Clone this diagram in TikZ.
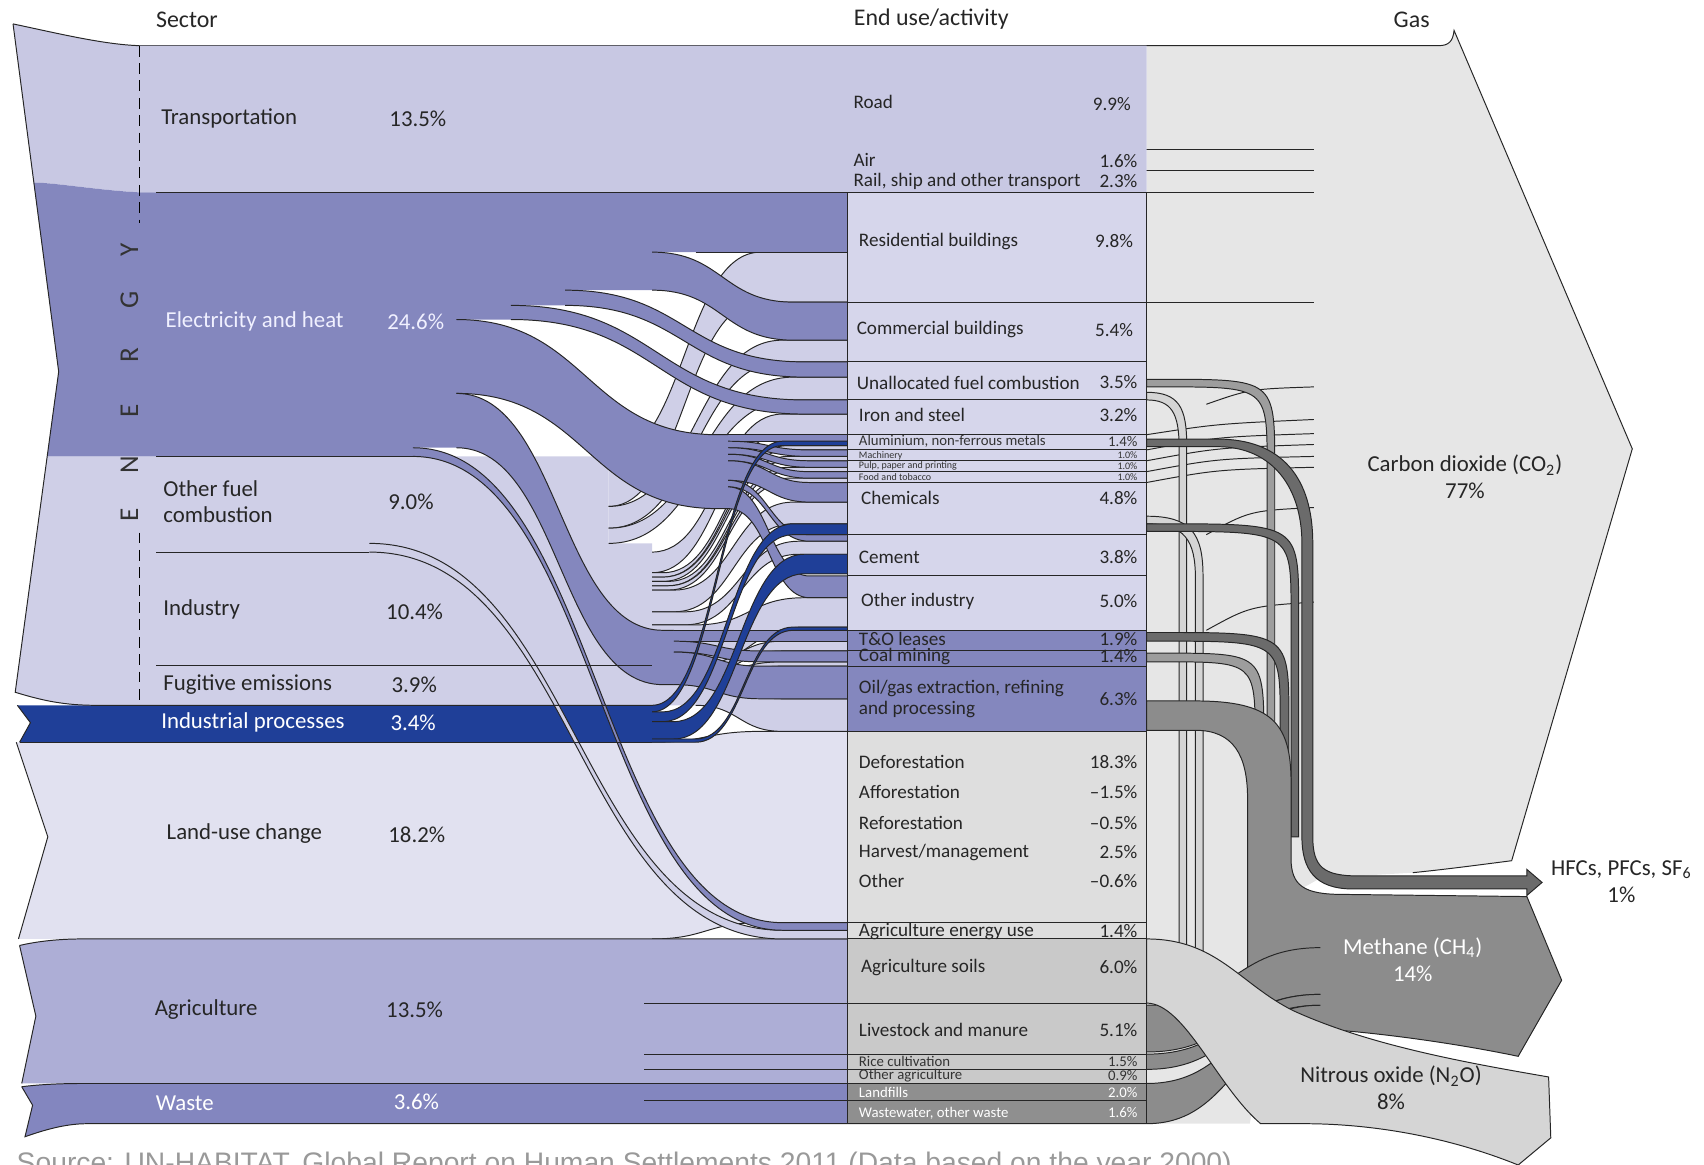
\documentclass[tikz,border=0pt]{standalone}
\usepackage{fontspec}
\setmainfont{Carlito}
\newfontfamily\sourcefont{Liberation Sans}
\usepackage{xcolor}
\definecolor{transp}{HTML}{C8C8E3}
\definecolor{elec}{HTML}{8487BE}
\definecolor{fuel}{HTML}{CFCFE7}
\definecolor{indpro}{HTML}{1F3F98}
\definecolor{landuse}{HTML}{E1E1F0}
\definecolor{agri}{HTML}{ADAED6}
\definecolor{waste}{HTML}{8386BF}
\definecolor{boxlav}{HTML}{D6D6EB}
\definecolor{boxland}{HTML}{DEDEDE}
\definecolor{boxagri}{HTML}{C9C9C9}
\definecolor{boxwaste}{HTML}{8F8F8F}
\definecolor{co2}{HTML}{E6E6E6}
\definecolor{ch4}{HTML}{8C8C8C}
\definecolor{ntwo}{HTML}{D5D5D5}
\definecolor{hfc}{HTML}{6B6B6B}
\definecolor{midgrey}{HTML}{9D9D9D}

\tikzset{
  flowline/.style={draw=black!85, line width=0.45pt},
  sector/.style={anchor=west, inner sep=0pt, text=black!85, font=\fontsize{10.5}{12}\selectfont},
  enduse/.style={anchor=west, inner sep=0pt, text=black!85, font=\fontsize{8.8}{10}\selectfont},
  share/.style={anchor=east, inner sep=0pt, text=black!85, font=\fontsize{8.8}{10}\selectfont},
  smallrow/.style={anchor=west, inner sep=0pt, text=black!80, font=\fontsize{6.8}{7}\selectfont},
  tinyrow/.style={anchor=west, inner sep=0pt, text=black!80, font=\fontsize{4.6}{5}\selectfont},
  tinyshare/.style={anchor=east, inner sep=0pt, text=black!80, font=\fontsize{4.6}{5}\selectfont},
  heading/.style={inner sep=0pt, text=black!85, font=\fontsize{11}{13}\selectfont},
  gaslabel/.style={inner sep=0pt, align=center, text=black!85, font=\fontsize{10.5}{12.5}\selectfont},
  letter/.style={rotate=90, inner sep=0pt, text=black!80, font=\fontsize{12.5}{14}\selectfont},
}

% ribbon: colour, x start, curve start, curve end, x end, left top/bottom, right top/bottom
\newcommand{\sankeyflow}[9]{%
  \pgfmathsetmacro{\flowmid}{(#3+#4)/2}%
  \fill[#1] (#2,#6) -- (#3,#6) .. controls (\flowmid,#6) and (\flowmid,#8) .. (#4,#8) -- (#5,#8) -- (#5,#9) -- (#4,#9) .. controls (\flowmid,#9) and (\flowmid,#7) .. (#3,#7) -- (#2,#7) -- cycle;
  \draw[flowline] (#2,#6) -- (#3,#6) .. controls (\flowmid,#6) and (\flowmid,#8) .. (#4,#8) -- (#5,#8);
  \draw[flowline] (#2,#7) -- (#3,#7) .. controls (\flowmid,#7) and (\flowmid,#9) .. (#4,#9) -- (#5,#9);}

% band leaving the box to the right and turning down
\newcommand{\gasdrop}[5]{%
  \pgfmathsetmacro{\dropr}{#4+#3}%
  \pgfmathsetmacro{\dropb}{#2+#3}%
  \pgfmathsetmacro{\dropk}{#2+80}%
  \filldraw[fill=#1, flowline] (1055,#2) -- (1070,#2) .. controls (\dropr,#2) .. (\dropr,\dropk) -- (\dropr,#5) -- (#4,#5) -- (#4,\dropk) .. controls (#4,\dropb) .. (1070,\dropb) -- (1055,\dropb) -- cycle;}

\begin{document}
\begin{tikzpicture}[x=0.5pt, y=-0.5pt]
\useasboundingbox (0,0) rectangle (1568,1072);

% gas side
\fill[co2] (1055,42) -- (1324,42) .. controls (1333,42) and (1337,38) .. (1338,28) -- (1502,413) -- (1391,792) .. controls (1360,796) and (1330,800) .. (1300,803) -- (1215,808) -- (1190,822) -- (1150,1034) -- (1055,1034) -- cycle;
\draw[flowline] (128,42) -- (1324,42) .. controls (1333,42) and (1337,38) .. (1338,28) -- (1502,413) -- (1391,792) .. controls (1360,796) and (1330,800) .. (1300,803);
\draw[flowline] (593,138) -- (1209,138);
\draw[flowline] (593,157) -- (1209,157);
\draw[flowline] (1055,278) -- (1209,278);
\draw[flowline] (1110,372) .. controls (1150,358) .. (1209,356);
\draw[flowline] (1055,400) .. controls (1120,390) .. (1209,386);
\draw[flowline] (1055,414) .. controls (1120,402) .. (1209,399);
\draw[flowline] (1055,424) .. controls (1120,412) .. (1209,409);
\draw[flowline] (1055,434) .. controls (1120,422) .. (1209,420);
\draw[flowline] (1055,444) .. controls (1120,432) .. (1209,430);
\draw[flowline] (1110,492) .. controls (1150,470) .. (1209,467);
\draw[flowline] (1110,580) .. controls (1150,558) .. (1209,554);

\filldraw[fill=ntwo, flowline] (1055,361) .. controls (1085,361) and (1092,375) .. (1092,410) -- (1092,895) .. controls (1092,935) and (1120,960) .. (1170,966) -- (1170,974) .. controls (1110,968) and (1085,940) .. (1085,900) -- (1085,412) .. controls (1085,380) and (1078,368) .. (1055,368) -- cycle;
\filldraw[fill=ntwo, flowline] (1055,475) .. controls (1095,475) and (1107,490) .. (1107,530) -- (1107,890) .. controls (1107,930) and (1135,952) .. (1185,958) -- (1185,966) .. controls (1125,962) and (1100,935) .. (1100,895) -- (1100,532) .. controls (1100,497) and (1090,482) .. (1055,482) -- cycle;

\gasdrop{midgrey}{349}{7}{1166}{780}
\gasdrop{hfc}{582}{8}{1178}{790}
\gasdrop{midgrey}{601}{8}{1155}{780}
\gasdrop{hfc}{482}{7}{1188}{770}

\filldraw[fill=ch4, flowline] (1055,645) -- (1100,645) .. controls (1170,645) and (1188,665) .. (1188,720) -- (1188,790) .. controls (1188,815) and (1200,823) .. (1235,823) -- (1405,825) -- (1437,902) -- (1397,972) .. controls (1330,958) and (1250,948) .. (1200,946) .. controls (1170,944) and (1150,925) .. (1148,895) -- (1148,735) .. controls (1148,695) and (1135,672) .. (1100,672) -- (1055,672) -- cycle;
\sankeyflow{ch4}{1055}{1055}{1215}{1215}{925}{968}{872}{915}
\sankeyflow{ch4}{1055}{1055}{1215}{1215}{970}{984}{915}{925}
\sankeyflow{ch4}{1055}{1055}{1215}{1215}{997}{1034}{925}{945}

\filldraw[fill=ntwo, flowline] (1055,864) .. controls (1120,864) and (1140,905) .. (1190,930) .. controls (1260,962) and (1350,978) .. (1425,991) -- (1427,1047) -- (1397,1072) .. controls (1330,1045) and (1260,1034) .. (1200,1034) -- (1160,1034) .. controls (1120,1000) and (1090,923) .. (1055,923) -- cycle;

\filldraw[fill=hfc, flowline] (1055,404) -- (1120,404) .. controls (1180,404) and (1208,440) .. (1208,500) -- (1208,770) .. controls (1208,798) and (1218,806) .. (1250,806) -- (1405,806) -- (1405,800) -- (1419,812) -- (1405,824) -- (1405,818) -- (1245,818) .. controls (1210,818) and (1198,800) .. (1198,770) -- (1198,500) .. controls (1198,450) and (1172,411) .. (1120,411) -- (1055,411) -- cycle;

% land-use, agriculture, waste
\fill[landuse] (15,683) -- (600,683) .. controls (650,683) and (650,673) .. (700,673) -- (780,673) -- (780,849) -- (700,849) .. controls (650,849) and (650,864) .. (600,864) -- (17,864) -- (44,770) -- cycle;
\draw[flowline] (15,683) -- (44,770) -- (17,864);
\draw[flowline] (600,864) .. controls (650,864) and (650,849) .. (700,849) -- (780,849);
\draw[flowline] (600,683) .. controls (650,683) and (650,673) .. (700,673) -- (780,673);
\fill[agri] (18,870) .. controls (35,866) and (55,864) .. (75,864) -- (780,864) -- (780,997) -- (20,997) -- (33,935) -- cycle;
\draw[flowline] (18,870) .. controls (35,866) and (55,864) .. (75,864) -- (780,864);
\draw[flowline] (18,870) -- (33,935) -- (20,997);
\fill[waste] (20,1000) .. controls (35,998) and (55,997) .. (75,997) -- (780,997) -- (780,1034) -- (80,1034) .. controls (60,1034) and (40,1040) .. (23,1046) -- (30,1017) -- cycle;
\draw[flowline] (20,1000) .. controls (35,998) and (55,997) .. (75,997) -- (780,997);
\draw[flowline] (20,1000) -- (30,1017) -- (23,1046) .. controls (40,1040) and (60,1034) .. (80,1034) -- (1055,1034);
\draw[flowline] (593,923) -- (780,923);
\draw[flowline] (593,970) -- (780,970);
\draw[flowline] (593,984) -- (780,984);
\draw[flowline] (593,1013) -- (780,1013);

% energy sectors
\fill[transp] (12,22) .. controls (50,30) and (95,41) .. (128,42) -- (1055,42) -- (1055,177) -- (128,177) .. controls (90,175) and (50,168) .. (31,168) -- cycle;
\fill[fuel] (43.4,420) -- (560,420) -- (560,500) -- (600,500) -- (600,510) -- (31.5,510) -- cycle;
\fill[fuel] (31.5,508) -- (600,508) -- (600,612) -- (17.4,612) -- cycle;
\fill[fuel] (17.4,612) -- (640,612) -- (640,649) -- (88,649) .. controls (60,649) and (40,645) .. (14,637) -- cycle;

% other fuel combustion
\sankeyflow{fuel}{560}{560}{700}{780}{420}{466}{232}{278}
\sankeyflow{fuel}{560}{560}{720}{780}{466}{486}{313}{333}
\sankeyflow{fuel}{560}{560}{730}{780}{486}{500}{347}{368}
% industry
\sankeyflow{fuel}{600}{600}{720}{780}{508}{527}{381}{400}
\sankeyflow{fuel}{600}{610}{725}{780}{527}{531}{410}{414}
\sankeyflow{fuel}{600}{610}{725}{780}{531}{535}{420}{424}
\sankeyflow{fuel}{600}{615}{725}{780}{535}{539}{430}{434}
\sankeyflow{fuel}{600}{615}{725}{780}{539}{543}{440}{444}
\sankeyflow{fuel}{600}{620}{730}{780}{543}{563}{462}{482}
\sankeyflow{fuel}{600}{630}{735}{780}{563}{575}{498}{510}
\sankeyflow{fuel}{600}{640}{740}{780}{575}{612}{550}{577}
% fugitive emissions
\sankeyflow{fuel}{640}{640}{720}{780}{612}{621}{590}{599}
\sankeyflow{fuel}{640}{640}{720}{780}{621}{625}{609}{613}
\sankeyflow{fuel}{640}{640}{720}{780}{625}{649}{643}{673}

% electricity and heat
\fill[elec] (31,168) .. controls (50,168) and (90,175) .. (128,177) -- (780,177) -- (780,232) -- (602,232) -- (602,267) -- (522,267) -- (522,281) -- (472,281) -- (472,294) -- (422,294) -- (422,412) -- (382,412) -- (382,420) -- (43.4,420) -- (54,342) -- cycle;
\draw[flowline] (640,232) -- (780,232);
\sankeyflow{elec}{600}{600}{730}{780}{232}{267}{278}{313}
\sankeyflow{elec}{520}{520}{740}{780}{267}{281}{333}{347}
\sankeyflow{elec}{470}{470}{740}{780}{281}{294}{368}{381}
% upper band to industry
\sankeyflow{elec}{420}{420}{660}{670}{294}{362}{400}{468}
\sankeyflow{elec}{670}{670}{745}{780}{400}{406}{400}{406}
\sankeyflow{elec}{670}{670}{745}{780}{406}{412}{414}{420}
\sankeyflow{elec}{670}{670}{745}{780}{412}{418}{424}{430}
\sankeyflow{elec}{670}{670}{745}{780}{418}{424}{434}{440}
\sankeyflow{elec}{670}{670}{745}{780}{424}{442}{444}{462}
\sankeyflow{elec}{670}{670}{745}{780}{442}{448}{492}{498}
\sankeyflow{elec}{670}{670}{745}{780}{448}{468}{530}{550}
% lower band to fuel production
\sankeyflow{elec}{420}{420}{610}{620}{362}{412}{580}{630}
\sankeyflow{elec}{620}{620}{700}{780}{580}{590}{580}{590}
\sankeyflow{elec}{620}{620}{700}{780}{590}{600}{599}{609}
\sankeyflow{elec}{620}{620}{700}{780}{600}{630}{613}{643}

% industrial processes
\fill[indpro] (16,649) -- (600,649) -- (600,683) -- (18,683) -- (28,665) -- cycle;
\draw[flowline] (16,649) -- (28,665) -- (18,683);

% agriculture energy use
\sankeyflow{fuel}{340}{340}{720}{780}{500}{508}{856}{864}
\sankeyflow{elec}{380}{380}{720}{780}{412}{420}{849}{856}

\sankeyflow{indpro}{600}{600}{720}{780}{649}{655}{406}{410}
\sankeyflow{indpro}{600}{610}{730}{780}{655}{664}{482}{492}
\sankeyflow{indpro}{600}{620}{740}{780}{664}{680}{510}{528}
\sankeyflow{indpro}{600}{640}{730}{780}{680}{683}{577}{580}

% sector outline and borders
\draw[flowline] (12,22) .. controls (50,30) and (95,41) .. (128,42);
\draw[flowline] (12,22) -- (54,342) -- (14,637) .. controls (40,645) and (60,649) .. (88,649) -- (600,649);
\draw[flowline] (144,177) -- (1209,177);
\draw[flowline] (144,420) -- (380,420);
\draw[flowline] (144,508) -- (340,508);
\draw[flowline] (144,612) -- (600,612);
\draw[flowline] (18,683) -- (600,683);
\draw[dashed, dash pattern=on 5pt off 3pt, line width=0.5pt] (128,42) -- (128,205);
\draw[dashed, dash pattern=on 5pt off 3pt, line width=0.5pt] (128,490) -- (128,645);

% end use boxes
\filldraw[fill=boxlav, flowline] (780,177) rectangle (1055,278);
\filldraw[fill=boxlav, flowline] (780,278) rectangle (1055,333);
\filldraw[fill=boxlav, flowline] (780,333) rectangle (1055,368);
\filldraw[fill=boxlav, flowline] (780,368) rectangle (1055,400);
\filldraw[fill=boxlav, flowline] (780,400) rectangle (1055,414);
\filldraw[fill=boxlav, flowline] (780,414) rectangle (1055,424);
\filldraw[fill=boxlav, flowline] (780,424) rectangle (1055,434);
\filldraw[fill=boxlav, flowline] (780,434) rectangle (1055,444);
\filldraw[fill=boxlav, flowline] (780,444) rectangle (1055,492);
\filldraw[fill=boxlav, flowline] (780,492) rectangle (1055,530);
\filldraw[fill=boxlav, flowline] (780,530) rectangle (1055,580);
\filldraw[fill=elec, flowline] (780,580) rectangle (1055,599);
\filldraw[fill=elec, flowline] (780,599) rectangle (1055,613);
\filldraw[fill=elec, flowline] (780,613) rectangle (1055,673);
\filldraw[fill=boxland, flowline] (780,673) rectangle (1055,849);
\filldraw[fill=boxland, flowline] (780,849) rectangle (1055,864);
\filldraw[fill=boxagri, flowline] (780,864) rectangle (1055,923);
\filldraw[fill=boxagri, flowline] (780,923) rectangle (1055,970);
\filldraw[fill=boxagri, flowline] (780,970) rectangle (1055,984);
\filldraw[fill=boxagri, flowline] (780,984) rectangle (1055,997);
\filldraw[fill=boxwaste, flowline] (780,997) rectangle (1055,1013);
\filldraw[fill=boxwaste, flowline] (780,1013) rectangle (1055,1034);

% headings
\node[heading] (hsector) at (172,18) {Sector};
\node[heading] (henduse) at (857,18) {End use/activity};
\node[heading] (hgas) at (1299,18) {Gas};

% energy letters
\node[letter] (lete1) at (119,474) {E};
\node[letter] (letn) at (119,428) {N};
\node[letter] (lete2) at (119,378) {E};
\node[letter] (letr) at (119,327) {R};
\node[letter] (letg) at (119,276) {G};
\node[letter] (lety) at (119,230) {Y};

% sectors
\node[sector] (transport) at (148,109) {Transportation};
\node[sector] (transportp) at (358,109) {13.5\%};
\node[sector, text=white!94!blue] (electricity) at (152,296) {Electricity and heat};
\node[sector, text=white!94!blue] (electricityp) at (356,296) {24.6\%};
\node[sector, align=left] (otherfuel) at (150,462) {Other fuel\\combustion};
\node[sector] (otherfuelp) at (357,462) {9.0\%};
\node[sector] (industry) at (150,561) {Industry};
\node[sector] (industryp) at (355,563) {10.4\%};
\node[sector] (fugitive) at (150,630) {Fugitive emissions};
\node[sector] (fugitivep) at (360,630) {3.9\%};
\node[sector, text=white] (indproc) at (148,665) {Industrial processes};
\node[sector, text=white] (indprocp) at (359,665) {3.4\%};
\node[sector] (landuse) at (153,767) {Land-use change};
\node[sector] (landusep) at (357,768) {18.2\%};
\node[sector] (agri) at (142,929) {Agriculture};
\node[sector] (agrip) at (355,929) {13.5\%};
\node[sector, text=white] (waste) at (143,1015) {Waste};
\node[sector, text=white] (wastep) at (362,1014) {3.6\%};

% end uses
\node[enduse] (road) at (785,94) {Road};
\node[share] (roadp) at (1041,96) {9.9\%};
\node[enduse] (air) at (785,147) {Air};
\node[share] (airp) at (1047,148) {1.6\%};
\node[enduse] (rail) at (785,167) {Rail, ship and other transport};
\node[share] (railp) at (1047,167) {2.3\%};
\node[enduse] (resid) at (790,222) {Residential buildings};
\node[share] (residp) at (1043,222) {9.8\%};
\node[enduse] (comm) at (788,303) {Commercial buildings};
\node[share] (commp) at (1043,304) {5.4\%};
\node[enduse] (unalloc) at (788,352) {Unallocated fuel combustion};
\node[share] (unallocp) at (1047,352) {3.5\%};
\node[enduse] (iron) at (790,382) {Iron and steel};
\node[share] (ironp) at (1047,382) {3.2\%};
\node[smallrow] (alu) at (790,406) {Aluminium, non-ferrous metals};
\node[tinyshare, font=\fontsize{6.8}{7}\selectfont] (alup) at (1047,406) {1.4\%};
\node[tinyrow] (mach) at (790,419) {Machinery};
\node[tinyshare] (machp) at (1047,419) {1.0\%};
\node[tinyrow] (pulp) at (790,429) {Pulp, paper and printing};
\node[tinyshare] (pulpp) at (1047,429) {1.0\%};
\node[tinyrow] (food) at (790,439) {Food and tobacco};
\node[tinyshare] (foodp) at (1047,439) {1.0\%};
\node[enduse] (chem) at (792,458) {Chemicals};
\node[share] (chemp) at (1047,458) {4.8\%};
\node[enduse] (cement) at (790,513) {Cement};
\node[share] (cementp) at (1047,513) {3.8\%};
\node[enduse] (otherind) at (792,553) {Other industry};
\node[share] (otherindp) at (1047,553) {5.0\%};
\node[enduse] (tando) at (790,588) {T\&O leases};
\node[share] (tandop) at (1047,588) {1.9\%};
\node[enduse] (coal) at (790,604) {Coal mining};
\node[share] (coalp) at (1047,604) {1.4\%};
\node[enduse, align=left, font=\fontsize{8.8}{9.6}\selectfont] (oilgas) at (790,643) {Oil/gas extraction, refining\\and processing};
\node[share] (oilgasp) at (1047,643) {6.3\%};
\node[enduse] (defor) at (790,701) {Deforestation};
\node[share] (deforp) at (1047,701) {18.3\%};
\node[enduse] (affor) at (790,729) {Afforestation};
\node[share] (afforp) at (1047,729) {--1.5\%};
\node[enduse] (refor) at (790,757) {Reforestation};
\node[share] (reforp) at (1047,757) {--0.5\%};
\node[enduse] (harvest) at (790,784) {Harvest/management};
\node[share] (harvestp) at (1047,784) {2.5\%};
\node[enduse] (otherland) at (790,811) {Other};
\node[share] (otherlandp) at (1047,811) {--0.6\%};
\node[enduse] (agenergy) at (790,857) {Agriculture energy use};
\node[share] (agenergyp) at (1047,857) {1.4\%};
\node[enduse] (agsoils) at (792,890) {Agriculture soils};
\node[share] (agsoilsp) at (1047,890) {6.0\%};
\node[enduse] (livestock) at (790,948) {Livestock and manure};
\node[share] (livestockp) at (1047,948) {5.1\%};
\node[smallrow] (rice) at (790,977) {Rice cultivation};
\node[tinyshare, font=\fontsize{6.8}{7}\selectfont] (ricep) at (1047,977) {1.5\%};
\node[smallrow] (otherag) at (790,990) {Other agriculture};
\node[tinyshare, font=\fontsize{6.8}{7}\selectfont] (otheragp) at (1047,990) {0.9\%};
\node[smallrow, text=white] (landfill) at (790,1005) {Landfills};
\node[tinyshare, font=\fontsize{6.8}{7}\selectfont, text=white] (landfillp) at (1047,1005) {2.0\%};
\node[smallrow, text=white] (wastewater) at (790,1024) {Wastewater, other waste};
\node[tinyshare, font=\fontsize{6.8}{7}\selectfont, text=white] (wastewaterp) at (1047,1024) {1.6\%};

% gases
\node[gaslabel] (co2lbl) at (1348,439) {Carbon dioxide (CO\textsubscript{2})\\77\%};
\node[gaslabel] (hfclbl) at (1492,811) {HFCs, PFCs, SF\textsubscript{6}\\1\%};
\node[gaslabel, text=white] (ch4lbl) at (1300,883) {Methane (CH\textsubscript{4})\\14\%};
\node[gaslabel] (n2olbl) at (1280,1001) {Nitrous oxide (N\textsubscript{2}O)\\8\%};

\node[anchor=base west, inner sep=0pt, text=black!40, font=\sourcefont\fontsize{13}{15}\selectfont] (source) at (15,1079) {Source: UN-HABITAT, Global Report on Human Settlements 2011 (Data based on the year 2000)};
\end{tikzpicture}
\end{document}
